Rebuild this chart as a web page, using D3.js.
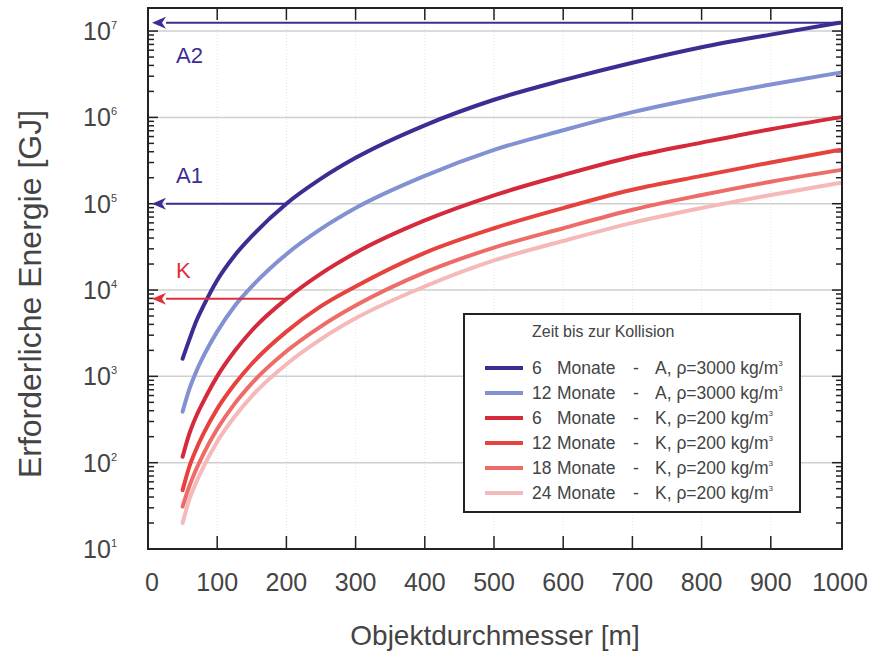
<!DOCTYPE html>
<html>
<head>
<meta charset="utf-8" />
<script src="https://d3js.org/d3.v7.min.js"></script>
<style>
  body { margin: 0; background: #fff; }
  text { font-family: "Liberation Sans", Arial, sans-serif; fill: #444; }
  .grid { stroke: #cfcfcf; stroke-width: 1.5; }
  .vgrid { stroke: #e4e4e4; stroke-width: 1; stroke-dasharray: 1,2; }
  .frame { fill: none; stroke: #222; stroke-width: 2; }
  .tick { stroke: #222; stroke-width: 1.5; }
  .curve { fill: none; stroke-width: 4; stroke-linecap: round; }
</style>
</head>
<body>
<div id="chart"></div>
<script>
// Object diameter [m]
var diameters = [50, 60, 70, 80, 100, 125, 150, 200, 250, 300, 400, 500, 600, 700, 800, 900, 1000];

// Required energy [GJ] for each warning time / object type
var energyA6  = [1600, 2700, 4400, 6500, 13000, 25000, 42000, 100000, 195000, 340000, 810000, 1600000, 2700000, 4300000, 6500000, 9100000, 12500000];
var energyA12 = [390, 720, 1150, 1700, 3300, 6500, 11000, 26000, 51000, 89000, 210000, 420000, 710000, 1150000, 1700000, 2400000, 3300000];
var energyK6  = [117, 220, 350, 510, 1000, 1950, 3400, 7900, 15500, 27000, 64000, 125000, 215000, 350000, 510000, 730000, 1000000];
var energyK12 = [48, 91, 145, 215, 420, 810, 1400, 3300, 6500, 11000, 27000, 52000, 89000, 145000, 210000, 300000, 420000];
var energyK18 = [31, 54, 85, 126, 245, 480, 830, 1950, 3800, 6600, 16000, 31000, 52000, 85000, 126000, 180000, 245000];
var energyK24 = [20, 38, 60, 89, 175, 340, 590, 1380, 2700, 4700, 11000, 22000, 37000, 60000, 89000, 126000, 174000];

var seriesLabels = [
  ["6", "A, ρ=3000 kg/m", energyA6],
  ["12", "A, ρ=3000 kg/m", energyA12],
  ["6", "K, ρ=200 kg/m", energyK6],
  ["12", "K, ρ=200 kg/m", energyK12],
  ["18", "K, ρ=200 kg/m", energyK18],
  ["24", "K, ρ=200 kg/m", energyK24]
];
var colors = ["#3b2e93", "#8191d2", "#d42a3c", "#e6423e", "#ee6c68", "#f6b9b9"];

var xTicks = [0, 100, 200, 300, 400, 500, 600, 700, 800, 900, 1000];
var yDecades = [1, 2, 3, 4, 5, 6, 7];

var w = 883, h = 660;
var pl = 148, pr = 842, pt = 8, pb = 549;

var svg = d3.select("#chart").append("svg")
  .attr("width", w)
  .attr("height", h);

var x = d3.scaleLinear().domain([0, 1000]).range([pl, 840]);
var y = d3.scaleLog().domain([10, 1.85e7]).range([pb, pt]);

var defs = svg.append("defs");
function marker(id, color) {
  defs.append("marker")
    .attr("id", id)
    .attr("viewBox", "0 -6 14 12")
    .attr("refX", 0).attr("refY", 0)
    .attr("markerWidth", 14).attr("markerHeight", 12)
    .attr("markerUnits", "userSpaceOnUse")
    .attr("orient", "auto")
    .append("path")
    .attr("d", "M0,-6L14,0L0,6L4,0Z")
    .attr("fill", color);
}
marker("arrowA", "#3b2e93");
marker("arrowK", "#dc2f3a");

// grid
svg.selectAll("line.vgrid").data(xTicks.slice(1, -1)).enter()
  .append("line").attr("class", "vgrid")
  .attr("x1", function(d) { return x(d); }).attr("x2", function(d) { return x(d); })
  .attr("y1", pt).attr("y2", pb);

svg.selectAll("line.grid").data(yDecades.slice(1)).enter()
  .append("line").attr("class", "grid")
  .attr("x1", pl).attr("x2", pr)
  .attr("y1", function(d) { return y(Math.pow(10, d)); })
  .attr("y2", function(d) { return y(Math.pow(10, d)); });

// minor log ticks on left and right sides
var minor = [];
yDecades.forEach(function(p) {
  for (var m = 1; m < 10; m++) {
    var v = m * Math.pow(10, p);
    if (v <= 1.85e7) minor.push({ v: v, major: m === 1 });
  }
});
svg.selectAll("line.ltick").data(minor).enter()
  .append("line").attr("class", "tick")
  .attr("x1", pl).attr("x2", function(d) { return pl + (d.major ? 10 : 6); })
  .attr("y1", function(d) { return y(d.v); }).attr("y2", function(d) { return y(d.v); });
svg.selectAll("line.rtick").data(minor).enter()
  .append("line").attr("class", "tick")
  .attr("x1", pr).attr("x2", function(d) { return pr - (d.major ? 10 : 6); })
  .attr("y1", function(d) { return y(d.v); }).attr("y2", function(d) { return y(d.v); });

// x ticks top and bottom
svg.selectAll("line.btick").data(xTicks.slice(1, -1)).enter()
  .append("line").attr("class", "tick")
  .attr("x1", function(d) { return x(d); }).attr("x2", function(d) { return x(d); })
  .attr("y1", pb).attr("y2", pb - 13);
svg.selectAll("line.ttick").data(xTicks.slice(1, -1)).enter()
  .append("line").attr("class", "tick")
  .attr("x1", function(d) { return x(d); }).attr("x2", function(d) { return x(d); })
  .attr("y1", pt).attr("y2", pt + 12);

// curves
var line = d3.line()
  .x(function(d) { return x(d[0]); })
  .y(function(d) { return y(d[1]); })
  .curve(d3.curveMonotoneX);

seriesLabels.slice().reverse().forEach(function(s, i) {
  var c = colors[seriesLabels.length - 1 - i];
  svg.append("path")
    .attr("class", "curve")
    .attr("stroke", c)
    .attr("d", line(diameters.map(function(dm, j) { return [dm, s[2][j]]; })));
});

// arrows to the energy axis
var iEnd = diameters.indexOf(1000), i200 = diameters.indexOf(200);
var arrows = [
  { x0: 1000, v: energyA6[iEnd], color: "#3b2e93", m: "arrowA", label: "A2", ly: 55 },
  { x0: 200, v: energyA6[i200], color: "#3b2e93", m: "arrowA", label: "A1", ly: 175 },
  { x0: 200, v: energyK6[i200], color: "#dc2f3a", m: "arrowK", label: "K", ly: 270 }
];
arrows.forEach(function(a) {
  svg.append("line")
    .attr("x1", x(a.x0)).attr("x2", pl + 18)
    .attr("y1", y(a.v)).attr("y2", y(a.v))
    .attr("stroke", a.color).attr("stroke-width", 2)
    .attr("marker-end", "url(#" + a.m + ")");
  svg.append("text")
    .attr("x", 176).attr("y", a.ly + 8)
    .style("fill", a.color)
    .style("font-size", "22px")
    .text(a.label);
});

svg.append("rect").attr("class", "frame")
  .attr("x", pl).attr("y", pt)
  .attr("width", pr - pl).attr("height", pb - pt);

// tick labels
svg.selectAll("text.xl").data(xTicks).enter()
  .append("text")
  .attr("x", function(d) { return x(d) + (d === 0 ? 4 : 0); })
  .attr("y", 591)
  .attr("text-anchor", "middle")
  .style("font-size", "25px")
  .text(function(d) { return d; });

yDecades.forEach(function(p) {
  var t = svg.append("text")
    .attr("x", 117).attr("y", y(Math.pow(10, p)) + 9)
    .attr("text-anchor", "end")
    .style("font-size", "25px");
  t.append("tspan").text("10");
  t.append("tspan").attr("dy", -11).style("font-size", "11px").text(p);
});

// axis titles
svg.append("text")
  .attr("x", 495).attr("y", 645)
  .attr("text-anchor", "middle")
  .style("font-size", "28px")
  .text("Objektdurchmesser [m]");
svg.append("text")
  .attr("transform", "translate(41,294) rotate(-90)")
  .attr("text-anchor", "middle")
  .style("font-size", "32px")
  .text("Erforderliche Energie [GJ]");

// legend
var lg = svg.append("g");
lg.append("rect")
  .attr("x", 464).attr("y", 314).attr("width", 336).attr("height", 198)
  .attr("fill", "#fff").attr("stroke", "#222").attr("stroke-width", 2);
lg.append("text")
  .attr("x", 532).attr("y", 337)
  .style("font-size", "16px")
  .text("Zeit bis zur Kollision");
seriesLabels.forEach(function(s, i) {
  var cy = 368 + i * 25;
  lg.append("line")
    .attr("x1", 485).attr("x2", 523).attr("y1", cy).attr("y2", cy)
    .attr("stroke", colors[i]).attr("stroke-width", 4);
  var fs = "17.5px";
  lg.append("text").attr("x", 532).attr("y", cy + 6).style("font-size", fs).text(s[0]);
  lg.append("text").attr("x", 557).attr("y", cy + 6).style("font-size", fs).text("Monate");
  lg.append("text").attr("x", 636).attr("y", cy + 6).attr("text-anchor", "middle").style("font-size", fs).text("-");
  var t = lg.append("text").attr("x", 655).attr("y", cy + 6).style("font-size", fs);
  t.append("tspan").text(s[1]);
  t.append("tspan").attr("dy", -8).style("font-size", "8px").text("3");
});
</script>
</body>
</html>
